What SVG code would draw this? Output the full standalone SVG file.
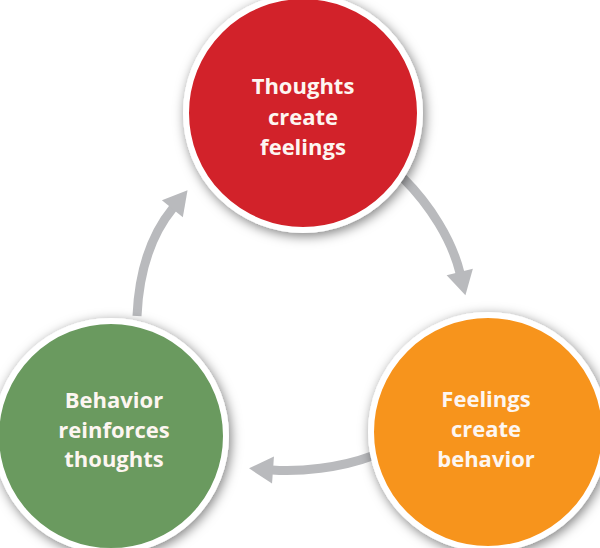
<svg xmlns="http://www.w3.org/2000/svg" width="600" height="548" viewBox="0 0 600 548">
<defs>
<style>
.node circle{stroke:#ffffff;stroke-width:6;filter:url(#sh)}
.node text{font-family:"Open Sans","Liberation Sans",sans-serif;font-weight:700;font-size:22px;fill:#fdf6f1;text-anchor:middle}
.conn path{fill:none;stroke:#b9babd;stroke-width:9;marker-end:url(#ah)}
</style>
<filter id="sh" x="-20%" y="-20%" width="140%" height="140%">
<feDropShadow dx="2" dy="3" stdDeviation="6" flood-color="#000" flood-opacity="0.5"/>
</filter>
<marker id="ah" markerUnits="userSpaceOnUse" markerWidth="30" markerHeight="30" viewBox="0 -15 25 30" refX="1" refY="0" orient="auto">
<path d="M0,-13.5 L24,0 L0,13.5 z" fill="#b9babd"/>
</marker>
</defs>
<rect width="600" height="548" fill="#ffffff"/>
<g class="conn" id="connectors">
<path d="M137,316 C139,270 151,235 173,208"/>
<path d="M403,178 C430,205 452,240 460,273"/>
<path d="M372,456 C340,468 300,472 272,470"/>
</g>
<g class="node" id="thoughts">
<circle cx="303" cy="113" r="117" fill="#d2232a"/>
<text x="303" y="94">Thoughts</text>
<text x="303" y="125">create</text>
<text x="303" y="155">feelings</text>
</g>
<g class="node" id="feelings">
<circle cx="488" cy="432" r="117" fill="#f7941e"/>
<text x="486" y="407">Feelings</text>
<text x="486" y="437">create</text>
<text x="486" y="467">behavior</text>
</g>
<g class="node" id="behavior">
<circle cx="111" cy="436" r="115" fill="#6a9a5f"/>
<text x="114" y="408">Behavior</text>
<text x="114" y="438">reinforces</text>
<text x="114" y="467">thoughts</text>
</g>
</svg>
